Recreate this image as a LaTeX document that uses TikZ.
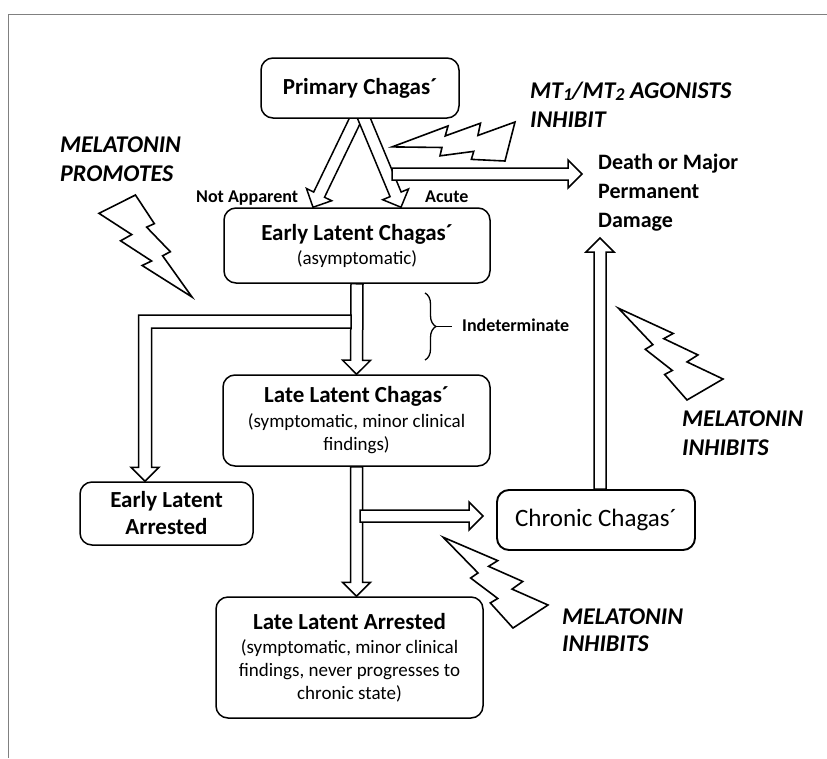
\documentclass[tikz,border=0pt]{standalone}
\usepackage{fontspec}
\setmainfont{Carlito}
\usetikzlibrary{calc,backgrounds,decorations.pathreplacing}

\tikzset{
  box/.style={draw, line width=1.5pt, rounded corners=12pt, fill=white,
    align=center, inner sep=0pt, font=\fontsize{19}{23}\selectfont},
  tag/.style={inner sep=0pt, align=left, font=\fontsize{24}{29}\selectfont\bfseries\itshape},
  note/.style={inner sep=0pt, font=\fontsize{18}{20}\selectfont\bfseries},
  block/.style={draw, fill=white, line width=1.5pt, line join=miter, to path={
    ($(\tikztostart)!6pt!90:(\tikztotarget)$)
    -- ($(\tikztotarget)!14pt!(\tikztostart)!6pt!90:(\tikztotarget)$)
    -- ($(\tikztotarget)!14pt!(\tikztostart)!14pt!90:(\tikztotarget)$)
    -- (\tikztotarget)
    -- ($(\tikztotarget)!14pt!(\tikztostart)!14pt!-90:(\tikztotarget)$)
    -- ($(\tikztotarget)!14pt!(\tikztostart)!6pt!-90:(\tikztotarget)$)
    -- ($(\tikztostart)!6pt!-90:(\tikztotarget)$) -- cycle}},
  pics/bolt/.style={code={
    \draw[line width=1.6pt, line join=miter, fill=white]
      (0.392,0) -- (0.595,0.281) -- (0.512,0.315) -- (0.767,0.556)
      -- (0.684,0.596) -- (1,1) -- (0.464,0.691) -- (0.566,0.647)
      -- (0.232,0.449) -- (0.352,0.388) -- (0,0.18) -- cycle;}}
}

\begin{document}
\begin{tikzpicture}[x=1pt, y=-1pt]
\useasboundingbox (0,0) rectangle (827,758);
\draw[gray, line width=1pt] (8,758) -- (8,14) -- (827,14);

% stages
\node[box, minimum width=198pt, minimum height=60pt] (prim) at (360,88)
  {\fontsize{23}{27}\selectfont\bfseries Primary Chagas´};
\node[box, minimum width=266pt, minimum height=75pt] (early) at (357,245.5)
  {{\fontsize{23}{27}\selectfont\bfseries Early Latent Chagas´}\\[1pt] (asymptomatic)};
\node[box, minimum width=267pt, minimum height=91pt] (late) at (356.5,420.5)
  {{\fontsize{23}{27}\selectfont\bfseries Late Latent Chagas´}\\[2pt] (symptomatic, minor clinical\\ findings)};
\node[box, minimum width=173pt, minimum height=63pt, font=\fontsize{23}{27}\selectfont\bfseries] (earr) at (166.5,513.5)
  {Early Latent\\ Arrested};
\node[box, minimum width=267pt, minimum height=121pt] (lla) at (349.5,657.5)
  {{\fontsize{23}{27}\selectfont\bfseries Late Latent Arrested}\\[1pt] (symptomatic, minor clinical\\ findings, never progresses to\\ chronic state)};
\node[box, line width=1.9pt, minimum width=198pt, minimum height=60pt, font=\fontsize{25}{29}\selectfont] (chron) at (596,520)
  {Chronic Chagas´};
\node[anchor=north west, inner sep=0pt, align=left, font=\fontsize{22}{29}\selectfont\bfseries] (death) at (598,154)
  {Death or Major\\ Permanent\\ Damage};

% labels
\node[tag, anchor=north west] (agon) at (530,82)
  {MT\raisebox{-2pt}{\fontsize{18}{18}\selectfont 1}/MT\raisebox{-2pt}{\fontsize{18}{18}\selectfont 2} AGONISTS\\ INHIBIT};
\node[tag, anchor=north west] (prom) at (60,137) {MELATONIN\\ PROMOTES};
\node[tag, anchor=north west] (inh1) at (682,411) {MELATONIN\\ INHIBITS};
\node[tag, anchor=north west, font=\fontsize{24}{27}\selectfont\bfseries\itshape] (inh2) at (562,609) {MELATONIN\\ INHIBITS};
\node[note, anchor=base west] (notapp) at (196,202) {Not Apparent};
\node[note, anchor=base west] (acute) at (425,202) {Acute};
\node[note, anchor=base west, inner xsep=10pt] (indet) at (452,331) {Indeterminate};

% arrow ends
\coordinate (na-s) at ($(prim.south)+(4,-17)$);
\coordinate (na-t) at ($(early.north)+(-44,0)$);
\coordinate (ac-s) at ($(prim.south)+(-3,-17)$);
\coordinate (ac-t) at ($(early.north)+(44,0)$);
\coordinate (ac-d) at (392,174);
\coordinate (dm-l) at (582,174);
\coordinate (dm-b) at (600,238);
\coordinate (ch-t) at (chron.north -| dm-b);
\coordinate (el-s) at (351,321.5);
\coordinate (el-t) at ($(earr.north)+(-21.5,0)$);
\coordinate (ll-r) at (360,516);
\coordinate (ch-l) at (483,516);
\coordinate (lla-t) at (lla.north -| late.south);
\coordinate (br) at (436,326.5);

\begin{scope}[on background layer]
\path (na-s) edge[block] (na-t)
      (ac-s) edge[block] (ac-t)
      (ac-d) edge[block] (dm-l)
      (early.south) edge[block] (late.north)
      (late.south) edge[block] (lla-t)
      (ll-r) edge[block] (ch-l)
      (ch-t) edge[block] (dm-b);
\draw[block] let \p1=(el-s), \p2=(el-t) in
  (\x1,\y1+6.5pt) -- (\x2-6.5pt,\y1+6.5pt) -- (\x2-6.5pt,\y2+14pt)
  -- (\x2-14pt,\y2+14pt) -- (\p2) -- (\x2+14pt,\y2+14pt) -- (\x2+6.5pt,\y2+14pt)
  -- (\x2+6.5pt,\y1-6.5pt) -- (\x1,\y1-6.5pt) -- cycle;
\end{scope}

% indeterminate phase
\draw[line width=1.3pt, decorate, decoration={brace, amplitude=11pt}] (425,293) -- (425,360);
\draw[line width=1.3pt] (br) -- (br -| indet.west);

% melatonin effects
\pic[shift={(99pt,-195pt)}, x={(93pt,0pt)}, y={(0pt,-102pt)}] {bolt};
\pic[shift={(528.7pt,-132.5pt)}, x={(-60.5pt,-72.7pt)}, y={(-76.1pt,58.3pt)}] {bolt};
\pic[shift={(724.8pt,-396.5pt)}, x={(-96.4pt,-8.9pt)}, y={(-10pt,97.2pt)}] {bolt};
\pic[shift={(550.2pt,-622.8pt)}, x={(-94.9pt,-13.3pt)}, y={(-12.2pt,98.9pt)}] {bolt};
\end{tikzpicture}
\end{document}
